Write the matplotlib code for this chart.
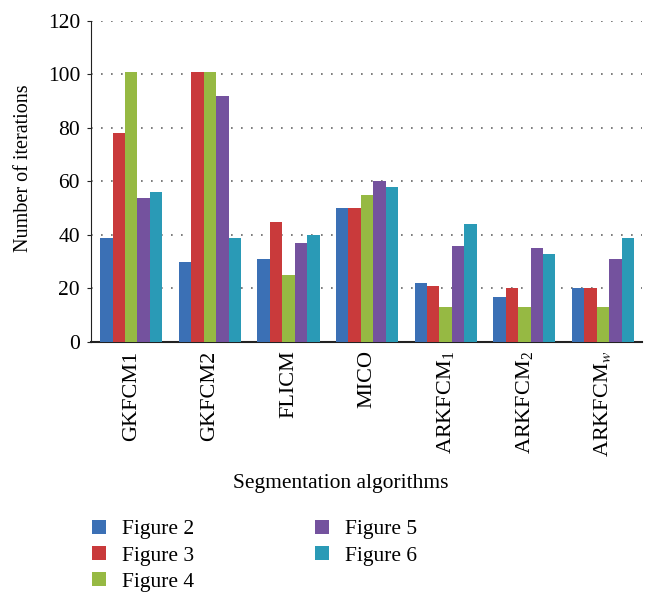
import numpy as np
import matplotlib
matplotlib.use("Agg")
import matplotlib.pyplot as plt

plt.rcParams['font.family'] = ['Liberation Serif', 'DejaVu Serif']
plt.rcParams['mathtext.fontset'] = 'stix'

# data
algorithms = ['GKFCM1', 'GKFCM2', 'FLICM', 'MICO',
              r'ARKFCM$_{\mathregular{1}}$', r'ARKFCM$_{\mathregular{2}}$', r'ARKFCM$_{w}$']
series_names = ['Figure 2', 'Figure 3', 'Figure 4', 'Figure 5', 'Figure 6']
fig2 = [39, 30, 31, 50, 22, 17, 20]
fig3 = [78, 101, 45, 50, 21, 20, 20]
fig4 = [101, 101, 25, 55, 13, 13, 13]
fig5 = [54, 92, 37, 60, 36, 35, 31]
fig6 = [56, 39, 40, 58, 44, 33, 39]
yticks = [0, 20, 40, 60, 80, 100, 120]

colors = ['#3b70b5', '#c93a3b', '#96b943', '#74529e', '#2a9ab6']

fig = plt.figure(figsize=(6.56, 6.07), dpi=100)
ax = fig.add_axes([0.139, 0.4366, 0.840, 0.5288])

x = np.arange(len(algorithms))
w = 0.158
for i, (vals, name) in enumerate(zip([fig2, fig3, fig4, fig5, fig6], series_names)):
    ax.bar(x + (i - 2) * w, vals, w, color=colors[i], label=name,
           edgecolor='none', zorder=3)

ax.set_xlim(-0.51, 6.5)
ax.set_ylim(0, 120)
ax.set_yticks(yticks)
ax.yaxis.grid(True, linestyle=(0, (1, 5)), color='#666666', linewidth=1.2)
ax.set_axisbelow(True)
for s in ['top', 'right']:
    ax.spines[s].set_visible(False)
ax.spines['left'].set_color('#222222')
ax.spines['bottom'].set_color('#222222')
ax.spines['bottom'].set_linewidth(1.5)
ax.tick_params(axis='x', length=0, labelsize=16, pad=6)
ax.tick_params(axis='y', length=3, color='#222222', labelsize=15.5, pad=5)

ax.set_xticks(x)
ax.set_xticklabels(algorithms, rotation=90)
ax.set_ylabel('Number of iterations', fontsize=14.5)
ax.yaxis.set_label_coords(-0.105, 0.542)
ax.set_xlabel('Segmentation algorithms', fontsize=15.5)
ax.xaxis.set_label_coords(0.452, -0.41)

fig.legend(loc='upper left', bbox_to_anchor=(0.127, 0.158), ncol=2,
           frameon=False, fontsize=15.5, handlelength=0.65, handleheight=0.65,
           columnspacing=5.6, labelspacing=0.3, handletextpad=0.75,
           borderaxespad=0)

plt.savefig('out.png', dpi=100)
